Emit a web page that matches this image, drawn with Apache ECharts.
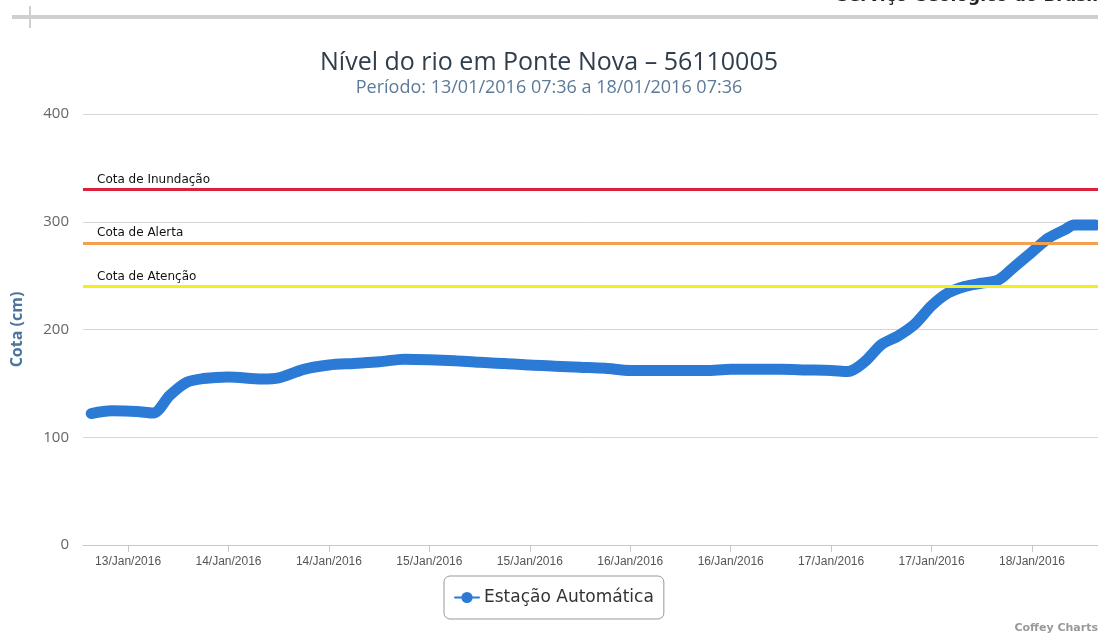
<!DOCTYPE html>
<html>
<head>
<meta charset="utf-8">
<script src="https://cdn.jsdelivr.net/npm/echarts@6/dist/echarts.min.js"></script>
<style>
  html, body { margin: 0; padding: 0; background: #fff; }
  #chart { width: 1098px; height: 639px; }
</style>
</head>
<body>
<div id="chart"></div>
<script>
// leituras da estação (hora local, cm)
const times = [
  '2016-01-13 07:36', '2016-01-13 10:00', '2016-01-13 13:00', '2016-01-13 15:00',
  '2016-01-13 17:00', '2016-01-13 19:00', '2016-01-13 21:00', '2016-01-14 00:00',
  '2016-01-14 04:00', '2016-01-14 06:00', '2016-01-14 09:00', '2016-01-14 12:00',
  '2016-01-14 15:00', '2016-01-14 18:00', '2016-01-14 21:00', '2016-01-15 00:00',
  '2016-01-15 03:00', '2016-01-15 06:00', '2016-01-15 09:00', '2016-01-15 12:00',
  '2016-01-15 15:00', '2016-01-15 18:00', '2016-01-15 21:00', '2016-01-16 00:00',
  '2016-01-16 03:00', '2016-01-16 06:00', '2016-01-16 09:00', '2016-01-16 12:00',
  '2016-01-16 15:00', '2016-01-16 18:00', '2016-01-16 21:00', '2016-01-17 00:00',
  '2016-01-17 02:00', '2016-01-17 04:00', '2016-01-17 06:00', '2016-01-17 08:00',
  '2016-01-17 10:00', '2016-01-17 12:00', '2016-01-17 14:00', '2016-01-17 16:00',
  '2016-01-17 18:00', '2016-01-17 20:00', '2016-01-17 22:00', '2016-01-18 00:00',
  '2016-01-18 02:00', '2016-01-18 04:00', '2016-01-18 05:00', '2016-01-18 07:36'
]
const levels = [
  122, 124.5, 124, 122.5,
  139, 151, 154.5, 156,
  154, 155, 163, 167,
  168.5, 170, 172.5, 172,
  171, 169.5, 168.5, 167,
  166, 165, 164, 162,
  162, 162, 162, 163,
  163, 163, 162.5, 162,
  161, 170, 186, 194,
  205, 222, 234, 240,
  243, 246, 259, 272,
  285, 293, 297, 297
]

// cotas de referência
const thresholdNames = ['Cota de Inundação', 'Cota de Alerta', 'Cota de Atenção']
const thresholdValues = [330, 280, 240]
const thresholdColors = ['#dc1f3c', '#f5a04c', '#f2ee1c']

// marcas do eixo x (a cada 12 h)
const tickTimes = [
  '2016-01-13 12:00', '2016-01-14 00:00', '2016-01-14 12:00', '2016-01-15 00:00',
  '2016-01-15 12:00', '2016-01-16 00:00', '2016-01-16 12:00', '2016-01-17 00:00',
  '2016-01-17 12:00', '2016-01-18 00:00'
]
const yTicks = [0, 100, 200, 300, 400]

const months = ['Jan', 'Feb', 'Mar', 'Apr', 'May', 'Jun', 'Jul', 'Aug', 'Sep', 'Oct', 'Nov', 'Dec']
function toMs(s) {
  return new Date(s.replace(' ', 'T')).getTime()
}
function pad(n) {
  return n < 10 ? '0' + n : '' + n
}

const myChart = echarts.init(document.getElementById('chart'))
const option = {
  animation: false,
  backgroundColor: '#fff',
  title: {
    text: 'Nível do rio em Ponte Nova – 56110005',
    subtext: 'Período: 13/01/2016 07:36 a 18/01/2016 07:36',
    left: 'center',
    top: 45,
    itemGap: 4,
    textStyle: { fontFamily: 'Open Sans', fontSize: 25, fontWeight: 'normal', color: '#2f3d4c' },
    subtextStyle: { fontFamily: 'Open Sans', fontSize: 18, color: '#5b7a99' },
  },
  legend: {
    data: ['Estação Automática'],
    left: 444,
    top: 576,
    padding: [13, 10, 13, 10],
    borderColor: '#999',
    borderWidth: 1,
    borderRadius: 6,
    itemWidth: 24,
    itemHeight: 14,
    itemGap: 6,
    textStyle: { fontFamily: 'DejaVu Sans', fontSize: 17, color: '#333' },
  },
  grid: {
    left: 83,
    right: 0,
    top: 114,
    bottom: 94,
  },
  xAxis: {
    type: 'value',
    min: toMs('2016-01-13 06:37'),
    max: toMs('2016-01-18 07:53'),
    axisLine: { lineStyle: { color: '#c8c8c8' } },
    axisTick: {
      customValues: tickTimes.map(toMs),
      length: 7,
      lineStyle: { color: '#c8c8c8' },
    },
    axisLabel: {
      customValues: tickTimes.map(toMs),
      fontFamily: 'Liberation Sans',
      fontSize: 12,
      color: '#555',
      margin: 11,
      formatter: function (v) {
        const d = new Date(v)
        return pad(d.getDate()) + '/' + months[d.getMonth()] + '/' + d.getFullYear()
      },
    },
    splitLine: { show: false },
  },
  yAxis: {
    type: 'value',
    min: yTicks[0],
    max: yTicks[yTicks.length - 1],
    interval: 100,
    name: 'Cota (cm)',
    nameLocation: 'middle',
    nameGap: 58,
    nameTextStyle: { fontFamily: 'Open Sans', fontSize: 16, fontWeight: 'bold', color: '#4d759e' },
    axisLine: { show: false },
    axisTick: { show: false },
    axisLabel: { fontFamily: 'Open Sans', fontSize: 15, color: '#666', margin: 14 },
    splitLine: { lineStyle: { color: '#d6d6d6' } },
  },
  series: [
    {
      name: 'Estação Automática',
      type: 'line',
      data: times.map((t, i) => [toMs(t), levels[i]]),
      symbol: 'circle',
      symbolSize: 11,
      showSymbol: false,
      smooth: 0.3,
      color: '#2b7bd6',
      lineStyle: { width: 11, cap: 'round', join: 'round' },
      markLine: {
        silent: true,
        symbol: 'none',
        z: 10,
        data: thresholdValues.map((v, i) => ({
          yAxis: v,
          lineStyle: { color: thresholdColors[i], width: 3, type: 'solid' },
          label: {
            formatter: thresholdNames[i],
            position: 'insideStartTop',
            distance: [14, 4],
            fontFamily: 'DejaVu Sans',
            fontSize: 12,
            color: '#111',
          },
        })),
      },
    },
  ],
  graphic: [
    { type: 'rect', shape: { x: 12, y: 15, width: 1086, height: 4 }, style: { fill: '#cfcfcf' } },
    { type: 'rect', shape: { x: 29, y: 6, width: 2, height: 22 }, style: { fill: '#cfcfcf' } },
    {
      type: 'text', right: 0, top: -12,
      style: { text: 'Serviço Geológico do Brasil', font: 'bold 17px "DejaVu Sans"', fill: '#222' },
    },
    {
      type: 'text', right: 0, top: 623,
      style: { text: 'Coffey Charts', font: 'bold 11px "DejaVu Sans"', fill: '#999' },
    },
  ],
}
myChart.setOption(option)
</script>
</body>
</html>
